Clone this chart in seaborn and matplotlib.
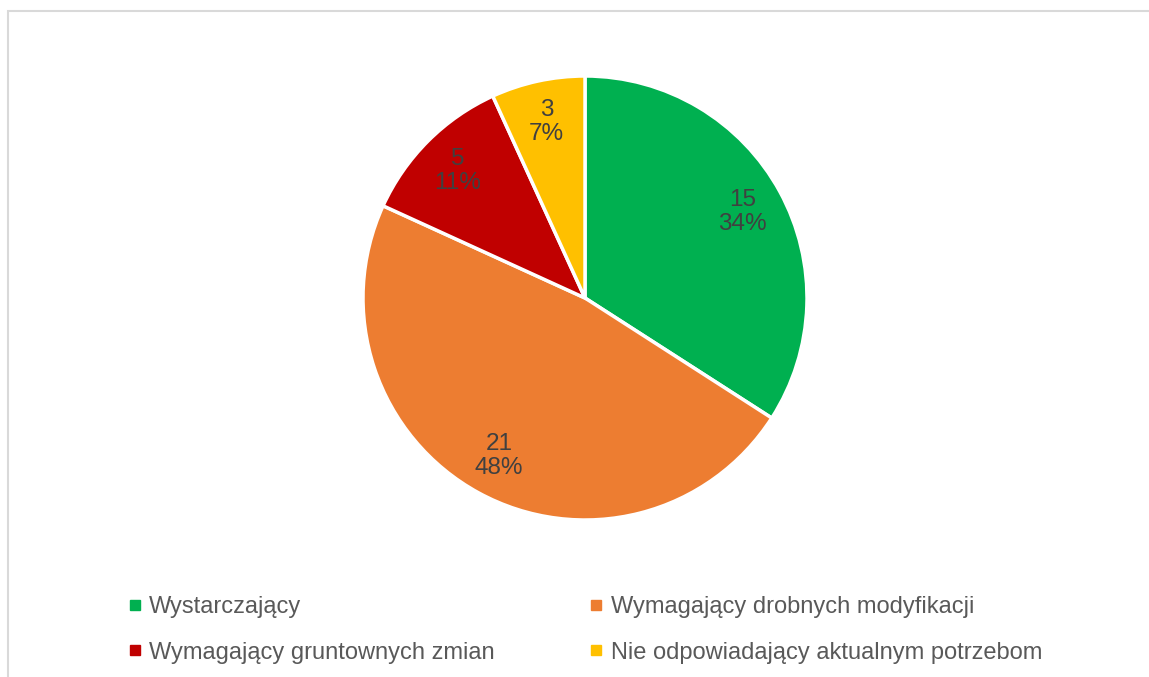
import matplotlib
matplotlib.use("Agg")
import matplotlib.pyplot as plt
import seaborn as sns
from matplotlib.patches import Rectangle
from matplotlib.lines import Line2D

categories = ["Wystarczający", "Wymagający drobnych modyfikacji",
              "Wymagający gruntownych zmian", "Nie odpowiadający aktualnym potrzebom"]
counts = [15, 21, 5, 3]
colors = ["#00B050", "#ED7D31", "#C00000", "#FFC000"]

sns.set_theme(style="white")
plt.rcParams["font.family"] = ["Liberation Sans", "DejaVu Sans"]

fig = plt.figure(figsize=(11.49, 6.77), dpi=100)
fig.patch.set_facecolor("white")

# chart border (cut off at right/bottom like the screenshot)
fig.patches.append(Rectangle((8 / 1149, -0.05), 1.2, 1 - 11 / 677 + 0.05,
                             transform=fig.transFigure, fill=False,
                             edgecolor="#D9D9D9", linewidth=1.5))

ax = fig.add_axes([363 / 1149, 1 - 520 / 677, 444 / 1149, 444 / 677])
total = sum(counts)

def fmt(pct):
    n = int(round(pct * total / 100.0))
    return "{}\n{:.0f}%".format(n, pct)

wedges, texts, autotexts = ax.pie(counts, colors=colors, startangle=90, counterclock=False,
                                  autopct=fmt, pctdistance=0.81,
                                  wedgeprops=dict(edgecolor="white", linewidth=2.5),
                                  textprops=dict(color="#404040", fontsize=17.5))
for t in autotexts:
    t.set_linespacing(1.1)
ax.set_xlim(-1, 1)
ax.set_ylim(-1, 1)
ax.set_aspect("equal")
ax.axis("off")

# legend laid out row by row (matplotlib fills columns first)
order = [0, 2, 1, 3]
handles = [Line2D([], [], marker="s", linestyle="none", markersize=6.5,
                  markerfacecolor=colors[i], markeredgecolor=colors[i]) for i in order]
leg = fig.legend(handles, [categories[i] for i in order], ncol=2, loc="upper left",
                 bbox_to_anchor=(128 / 1149, 1 - 596 / 677), frameon=False,
                 borderpad=0, borderaxespad=0,
                 fontsize=17, handlelength=0.6, handletextpad=0.3,
                 columnspacing=4.0, labelspacing=1.0)
for t in leg.get_texts():
    t.set_color("#595959")

fig.savefig("out.png", dpi=100, facecolor="white")
